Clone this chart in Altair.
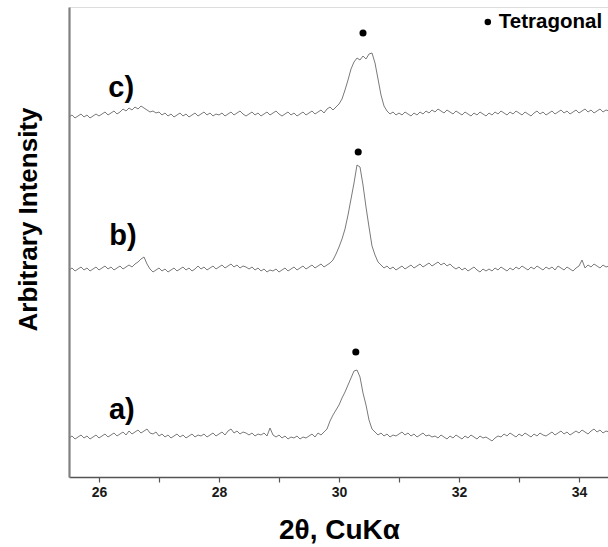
import altair as alt
import pandas as pd

# 2-theta sampling grid (degrees)
two_theta = [round(25.5 + 0.05 * i, 2) for i in range(181)]

# Intensities (arbitrary units, offsets included)
trace_a = [
    39, 41, 38, 40, 42, 39, 41, 38, 40, 42,
    39, 41, 43, 40, 42, 44, 41, 43, 45, 42,
    46, 43, 45, 47, 44, 46, 48, 44, 43, 45,
    41, 43, 40, 42, 39, 41, 43, 40, 42, 39,
    41, 43, 40, 42, 41, 43, 40, 42, 44, 41,
    43, 45, 42, 46, 48, 44, 46, 43, 45, 44,
    42, 44, 41, 43, 42, 44, 41, 49, 42, 40,
    42, 39, 41, 38, 40, 39, 41, 38, 40, 39,
    41, 43, 40, 44, 42, 45, 48, 56, 62, 67,
    72, 79, 85, 92, 99, 106, 107, 100, 84, 72,
    57, 48, 45, 42, 44, 41, 43, 40, 42, 41,
    43, 45, 42, 44, 41, 43, 40, 42, 44, 41,
    42, 40, 41, 39, 42, 40, 38, 41, 39, 42,
    40, 38, 41, 39, 42, 40, 38, 41, 39, 40,
    38, 36, 39, 41, 40, 43, 41, 44, 42, 40,
    43, 41, 44, 42, 40, 43, 41, 44, 42, 41,
    43, 45, 42, 44, 46, 43, 45, 42, 44, 46,
    44, 47, 45, 43, 46, 48, 45, 47, 44, 46,
    45,
]

trace_b = [
    207, 209, 206, 208, 210, 207, 209, 206, 208, 210,
    207, 209, 211, 208, 210, 207, 209, 211, 208, 210,
    212, 210, 213, 215, 218, 220, 213, 208, 205, 207,
    209, 206, 208, 205, 207, 209, 206, 208, 210, 207,
    209, 206, 208, 211, 208, 210, 207, 209, 211, 208,
    210, 212, 209, 211, 213, 210, 212, 209, 211, 210,
    208, 210, 207, 209, 206, 208, 205, 207, 206, 208,
    205, 207, 209, 206, 208, 210, 207, 209, 211, 208,
    210, 212, 209, 211, 213, 210, 212, 214, 217, 223,
    230, 238, 248, 262, 278, 294, 312, 310, 292, 270,
    250, 231, 222, 215, 212, 209, 211, 208, 210, 207,
    209, 211, 208, 210, 212, 209, 211, 213, 210, 212,
    214, 211, 213, 215, 212, 214, 211, 213, 210, 208,
    210, 207, 209, 206, 208, 210, 207, 205, 208, 206,
    208, 206, 209, 207, 210, 208, 206, 209, 207, 210,
    208, 211, 209, 207, 210, 208, 211, 209, 207, 210,
    208, 210, 207, 211, 209, 207, 210, 208, 206, 209,
    211, 217, 209, 212, 210, 213, 211, 209, 212, 210,
    211,
]

trace_c = [
    360, 362, 359, 361, 363, 360, 362, 359, 361, 363,
    361, 363, 365, 362, 364, 366, 363, 365, 368, 366,
    369, 367, 370, 368, 371, 369, 367, 365, 366, 364,
    365, 362, 364, 361, 363, 360, 362, 364, 361, 363,
    360, 362, 364, 361, 363, 365, 362, 364, 361, 363,
    362, 364, 361, 363, 365, 362, 364, 366, 363, 361,
    363, 365, 362, 364, 361, 363, 365, 362, 364, 366,
    363, 361, 363, 365, 362, 364, 361, 363, 365, 362,
    364, 366, 363, 365, 367, 364, 368, 370, 367, 370,
    373, 378, 387, 397, 408, 415, 419, 417, 421, 418,
    423, 424, 414, 398, 382, 371, 366, 363, 365, 362,
    364, 362, 365, 363, 361, 364, 362, 365, 363, 366,
    364, 367, 365, 368, 366, 364, 367, 365, 363, 366,
    364, 362, 365, 363, 361, 364, 362, 365, 363, 361,
    364, 362, 365, 363, 366, 364, 362, 365, 363, 366,
    364, 362, 365, 363, 361, 364, 366, 363, 365, 362,
    364, 366, 363, 365, 367, 364, 366, 363, 365, 367,
    364, 366, 368, 365, 367, 364, 366, 368, 365, 367,
    366,
]

series_names = ["a", "b", "c"]
series_labels = ["a)", "b)", "c)"]
label_x = [26.38, 26.40, 26.37]
label_y = [67, 241, 389]
peak_x = [30.28, 30.32, 30.40]
peak_y = [125, 325, 444]
legend_label = "Tetragonal"
legend_x = [32.48]
legend_y = [455]
tick_values = [26, 27, 28, 29, 30, 31, 32, 33, 34]

rows = []
for name, vals in zip(series_names, [trace_a, trace_b, trace_c]):
    for x, y in zip(two_theta, vals):
        rows.append({"series": name, "x": x, "y": y})
lines_df = pd.DataFrame(rows)
labels_df = pd.DataFrame({"label": series_labels, "x": label_x, "y": label_y})
peaks_df = pd.DataFrame({"x": peak_x, "y": peak_y})
legend_df = pd.DataFrame({"x": legend_x, "y": legend_y, "label": [legend_label]})

FONT = "Liberation Sans"
xscale = alt.Scale(domain=[25.5, 34.483], nice=False, zero=False)
yscale = alt.Scale(domain=[0, 470], nice=False, zero=False)

x_axis = alt.Axis(
    title="2θ, CuKα", values=tick_values, format="d",
    labelExpr="datum.value % 2 == 0 ? datum.label : ''",
    grid=False, tickSize=5, tickColor="#555555", domainColor="#555555",
    domainWidth=1.5, tickWidth=1.2, labelFont=FONT, labelFontSize=14,
    labelFontWeight="bold", labelColor="#1a1a1a", labelPadding=3,
    titleFont=FONT, titleFontSize=28, titleFontWeight="bold", titleColor="#000000",
    titleX=270, titleY=53, titleBaseline="middle", titleAnchor="middle",
)
y_axis = alt.Axis(
    title="Arbitrary Intensity", ticks=False, labels=False, grid=False,
    domainColor="#808080", domainWidth=2.2,
    titleFont=FONT, titleFontSize=26, titleFontWeight="bold", titleColor="#000000",
    titleX=-41, titleY=212, titleBaseline="middle", titleAngle=-90,
)

lines = alt.Chart(lines_df).mark_line(color="#7a7a7a", strokeWidth=1, clip=True).encode(
    x=alt.X("x:Q", scale=xscale, axis=x_axis),
    y=alt.Y("y:Q", scale=yscale, axis=y_axis),
    detail="series:N",
)

dots = alt.Chart(peaks_df).mark_circle(color="#000000", size=50, opacity=1).encode(
    x=alt.X("x:Q", scale=xscale), y=alt.Y("y:Q", scale=yscale)
)

labels = alt.Chart(labels_df).mark_text(
    font=FONT, fontSize=29, fontWeight="bold", color="#000000",
    align="center", baseline="middle",
).encode(x=alt.X("x:Q", scale=xscale), y=alt.Y("y:Q", scale=yscale), text="label:N")

legend_dot = alt.Chart(legend_df).mark_circle(color="#000000", size=42, opacity=1).encode(
    x=alt.X("x:Q", scale=xscale), y=alt.Y("y:Q", scale=yscale)
)
legend_text = alt.Chart(legend_df).mark_text(
    font=FONT, fontSize=20.5, fontWeight="bold", color="#000000",
    align="left", baseline="middle", dx=11,
).encode(x=alt.X("x:Q", scale=xscale), y=alt.Y("y:Q", scale=yscale), text="label:N")

chart = alt.layer(lines, dots, labels, legend_dot, legend_text).properties(
    width=539, height=470,
    autosize=alt.AutoSizeParams(type="none"),
    padding={"left": 69, "top": 7, "right": 0, "bottom": 70},
).configure_view(stroke=None).configure(background="#ffffff")

chart.save("out.html", embed_options={"renderer": "svg", "actions": False})
